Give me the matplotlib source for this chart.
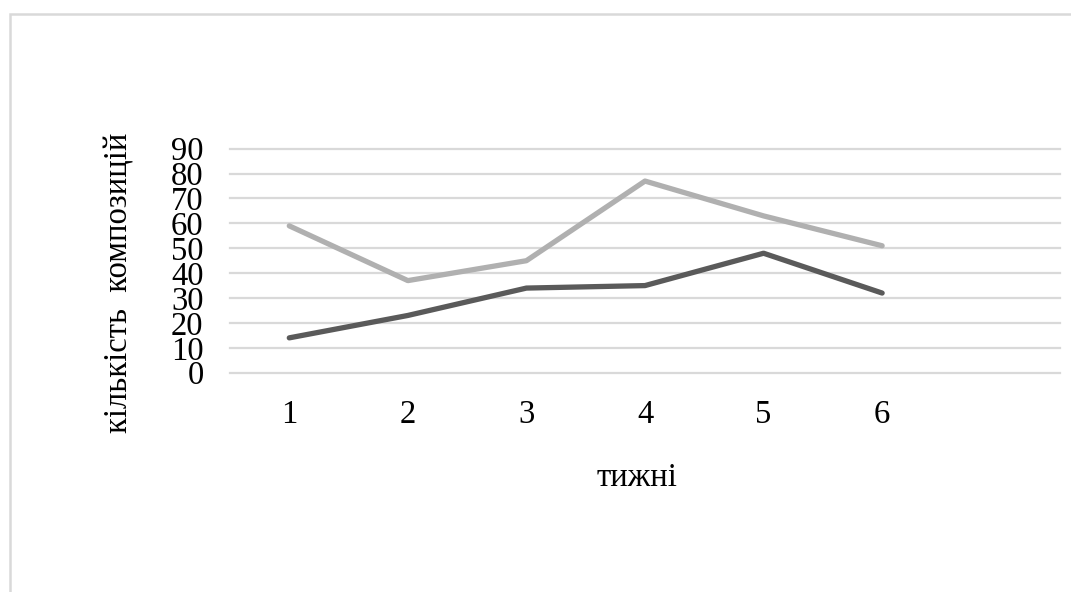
import matplotlib.pyplot as plt
from matplotlib.patches import Rectangle

weeks = ['1', '2', '3', '4', '5', '6', '']
light_series = [59, 37, 45, 77, 63, 51]
dark_series = [14, 23, 34, 35, 48, 32]
y_ticks = [0, 10, 20, 30, 40, 50, 60, 70, 80, 90]

plt.rcParams['font.family'] = ['Liberation Serif', 'DejaVu Serif']

W, H = 1071, 592
fig = plt.figure(figsize=(W / 100, H / 100), dpi=100)
ax = fig.add_axes([230 / W, 1 - 372.7 / H, 830 / W, 224 / H])

x = list(range(1, len(weeks) + 1))
ax.plot(x[:len(light_series)], light_series, color='#b0b0b0', linewidth=3.8,
        solid_capstyle='round', solid_joinstyle='round', zorder=3)
ax.plot(x[:len(dark_series)], dark_series, color='#5a5a5a', linewidth=3.8,
        solid_capstyle='round', solid_joinstyle='round', zorder=3)

ax.set_xlim(0.5, len(weeks) + 0.5)
ax.set_ylim(0, 90)
ax.set_xticks(x)
ax.set_xticklabels(weeks)
ax.set_yticks(y_ticks)
ax.set_yticklabels([str(v) for v in y_ticks])

# горизонтальна сітка як в Excel
for v in y_ticks:
    ax.axhline(v, color='#d9d9d9', linewidth=1.6, zorder=1, clip_on=False)

for s in ax.spines.values():
    s.set_visible(False)
ax.tick_params(axis='both', length=0, labelsize=23.5, colors='black')
ax.tick_params(axis='x', pad=19)
ax.tick_params(axis='y', pad=19)

# підписи осей
fig.text(637 / W, 1 - 485.5 / H, 'тижні', fontsize=23.5,
         ha='center', va='baseline')
fig.text(128 / W, 1 - 283 / H, 'кількість  композицій', fontsize=23.5,
         rotation=90, rotation_mode='anchor', ha='center', va='baseline')

# рамка області діаграми
fig.patches.append(Rectangle((10 / W, -0.1), 1.2, 1 - 14 / H + 0.1,
                             transform=fig.transFigure, fill=False,
                             edgecolor='#d9d9d9', linewidth=1.8))

fig.savefig('out.png', dpi=100)
